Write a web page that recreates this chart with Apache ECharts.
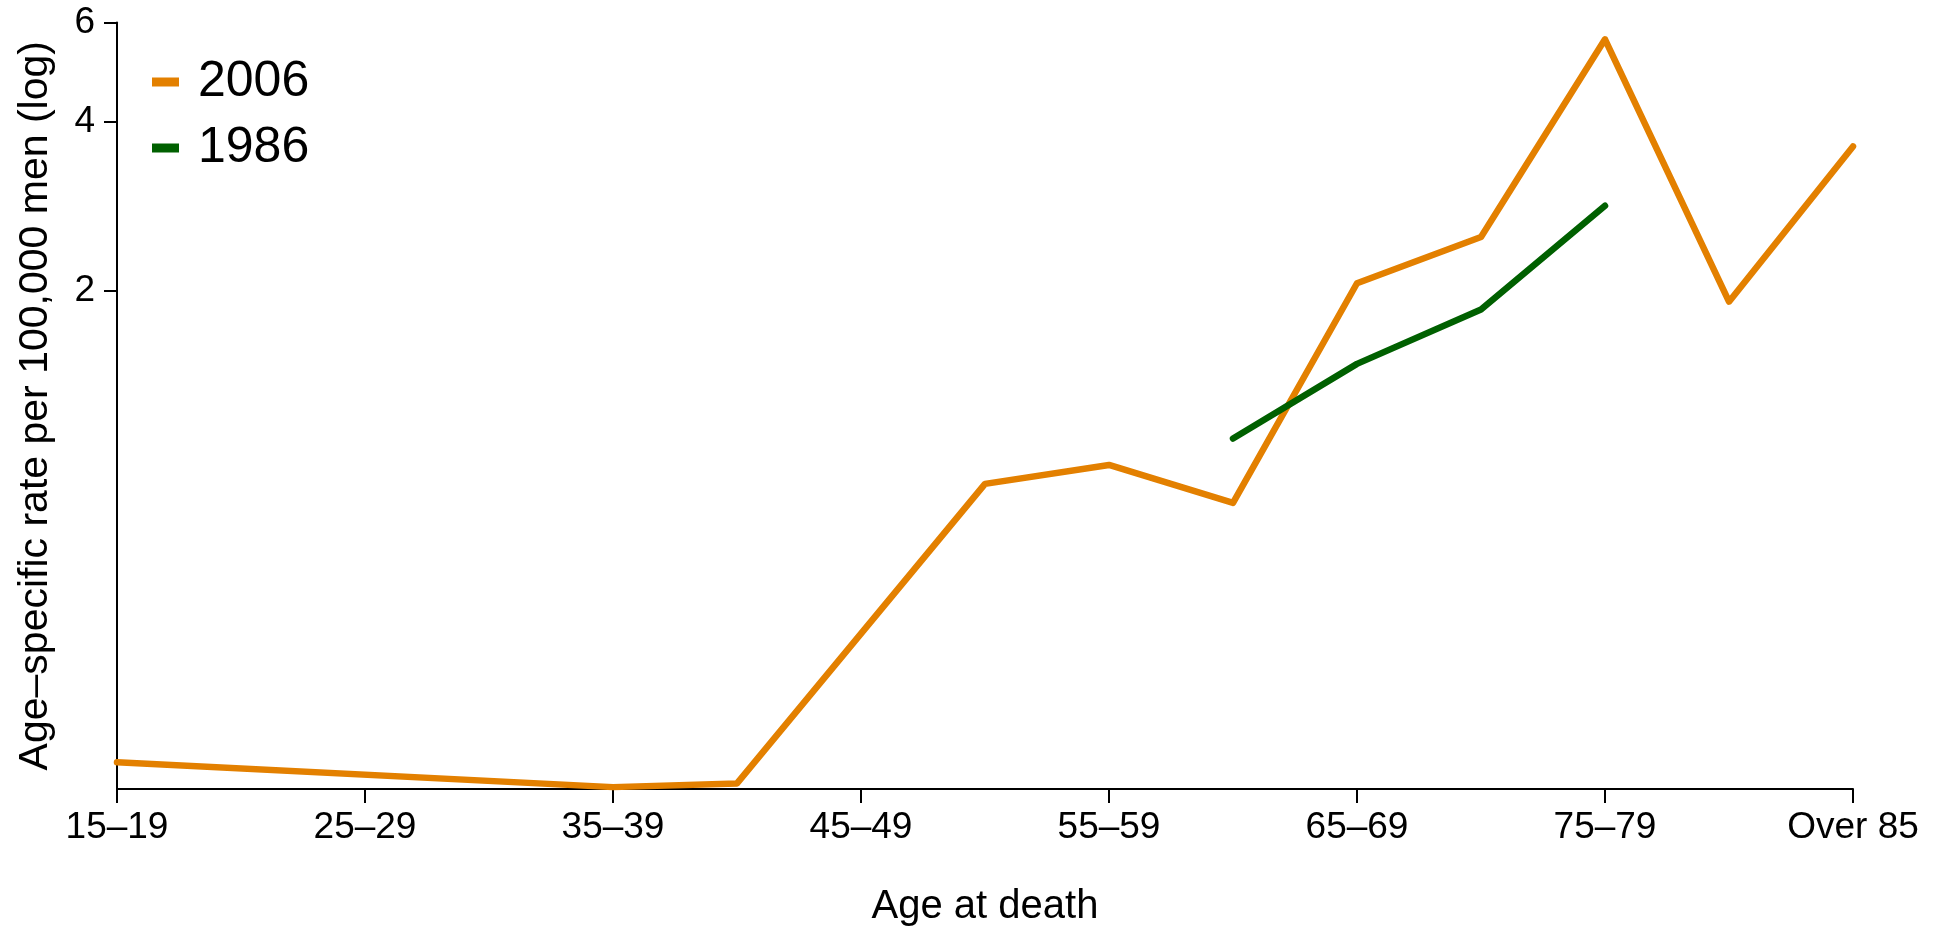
<!DOCTYPE html>
<html>
<head>
<meta charset="utf-8">
<script src="https://cdn.jsdelivr.net/npm/echarts@6/dist/echarts.min.js"></script>
<style>
html,body{margin:0;padding:0;background:#fff;}
#chart{width:1937px;height:926px;}
</style>
</head>
<body>
<div id="chart"></div>
<script>
const categories = ['15–19','20–24','25–29','30–34','35–39','40–44','45–49','50–54','55–59','60–64','65–69','70–74','75–79','80–84','Over 85'];
const rate2006 = [0.289, null, null, null, 0.261, 0.265, null, 0.905, 0.978, 0.837, 2.06, 2.49, 5.60, 1.91, 3.61];
const rate1986 = [null, null, null, null, null, null, null, null, null, 1.09, 1.48, 1.85, 2.83, null, null];
const yTicks = [2, 4, 6];

const FONT = '"Liberation Sans", Arial, Helvetica, sans-serif';
const chart = echarts.init(document.getElementById('chart'), null, {renderer: 'canvas'});
chart.setOption({
  backgroundColor: '#ffffff',
  animation: false,
  textStyle: {fontFamily: FONT, color: '#000'},
  grid: {left: 117, right: 84, top: 22.5, bottom: 137, containLabel: false, outerBoundsMode: 'none'},
  legend: {
    left: 147, top: 52, orient: 'vertical',
    itemWidth: 27, itemHeight: 9, itemGap: 16,
    icon: 'rect',
    textStyle: {fontFamily: FONT, fontSize: 50, color: '#000', lineHeight: 50, padding: [0, 0, 0, 14]},
    data: ['2006', '1986']
  },
  xAxis: {
    type: 'category', data: categories, boundaryGap: false,
    name: 'Age at death', nameLocation: 'middle', nameGap: 98,
    nameTextStyle: {fontFamily: FONT, fontSize: 40, color: '#000'},
    axisLine: {lineStyle: {color: '#000', width: 2}},
    axisTick: {show: true, interval: 1, length: 14, lineStyle: {color: '#000', width: 2}},
    axisLabel: {interval: 1, margin: 20, fontFamily: FONT, fontSize: 37, color: '#000'},
    splitLine: {show: false}
  },
  yAxis: {
    type: 'log', logBase: 10, min: 0.259, max: 6,
    name: 'Age–specific rate per 100,000 men (log)', nameLocation: 'middle', nameGap: 61,
    nameRotate: 90,
    nameTextStyle: {fontFamily: FONT, fontSize: 41, color: '#000'},
    axisLine: {show: true, lineStyle: {color: '#000', width: 2}},
    axisTick: {show: true, length: 13, customValues: yTicks, lineStyle: {color: '#000', width: 2}},
    axisLabel: {margin: 22, customValues: yTicks, fontFamily: FONT, fontSize: 37, color: '#000'},
    splitLine: {show: false}
  },
  series: [
    {
      name: '2006', type: 'line', data: rate2006, connectNulls: true,
      showSymbol: false, symbol: 'none', color: '#E38000',
      lineStyle: {width: 6.5, color: '#E38000', cap: 'round', join: 'round'}
    },
    {
      name: '1986', type: 'line', data: rate1986, connectNulls: true,
      showSymbol: false, symbol: 'none', color: '#006000',
      lineStyle: {width: 6.5, color: '#006000', cap: 'round', join: 'round'}
    }
  ]
});
</script>
</body>
</html>
